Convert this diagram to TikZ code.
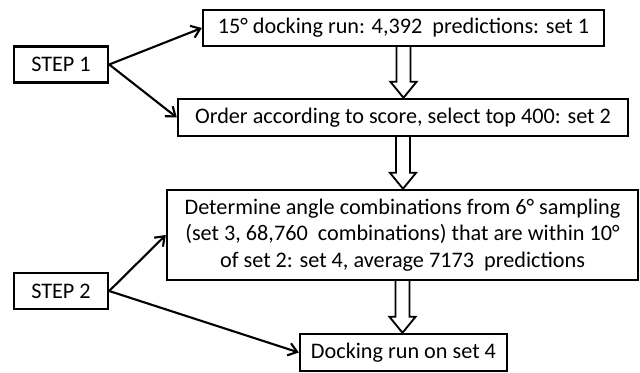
\documentclass[tikz,border=0pt]{standalone}
\usepackage{fontspec}
\setmainfont{Carlito}
\usetikzlibrary{calc,arrows.meta}
\def\px{0.025cm}
\tikzset{
  stepbox/.style={draw, line width=1.7pt, inner sep=0pt, align=center,
    font=\fontsize{15.8}{19}\selectfont},
  pointer/.style={line width=1.5pt, -{Straight Barb[length=6pt,width=9pt]}},
  hollowarrow/.style={line width=1.3pt}
}
\newcommand\hollowarrow[2]{%
  \draw[hollowarrow] let \p1=(#1.south), \p2=(#2.north) in
    (\x1-5pt,\y1) -- (\x1-5pt,\y2+11.4pt) -- (\x1-9.3pt,\y2+11.4pt) -- (\x1,\y2)
    -- (\x1+9.3pt,\y2+11.4pt) -- (\x1+5pt,\y2+11.4pt) -- (\x1+5pt,\y1);}

\begin{document}
\begin{tikzpicture}[x=\px, y=-\px]
			\useasboundingbox (0,0) rectangle (640,373);
			%%%%% BOXES %%%%%
			\node[stepbox, minimum width=94*\px, minimum height=36*\px] (step1) at (61, 64.5) {STEP 1};
			\node[stepbox, minimum width=94*\px, minimum height=36*\px] (step2) at (61, 291) {STEP 2};
			
			\node[stepbox, minimum width=401*\px, minimum height=36*\px] (set1) at (403.5, 28) {15° docking run: 4,392~ predictions: set 1};
			\node[stepbox, minimum width=450*\px, minimum height=37*\px] (set2) at (403, 117.5) {Order according to score, select top 400: set 2};
			\node[stepbox, minimum width=471*\px, minimum height=90*\px] (set4) at (402.5, 235) {Determine angle combinations from 6° sampling\\(set 3, 68,760~ combinations) that are within 10°\\of set 2: set 4, average 7173~ predictions};
			\node[stepbox, minimum width=207*\px, minimum height=37*\px] (dock) at (403.5, 352.5) {Docking run on set 4};
			
			%%%%% ARROWS %%%%%
			\draw[pointer] (step1.east) -- (set1.west);
			\draw[pointer] (step1.east) -- (set2.west);
			\draw[pointer] (step2.east) -- (set4.west);
			\draw[pointer] (step2.east) -- (dock.west);
			
			\hollowarrow{set1}{set2}
			\hollowarrow{set2}{set4}
			\hollowarrow{set4}{dock}
\end{tikzpicture}
\end{document}
